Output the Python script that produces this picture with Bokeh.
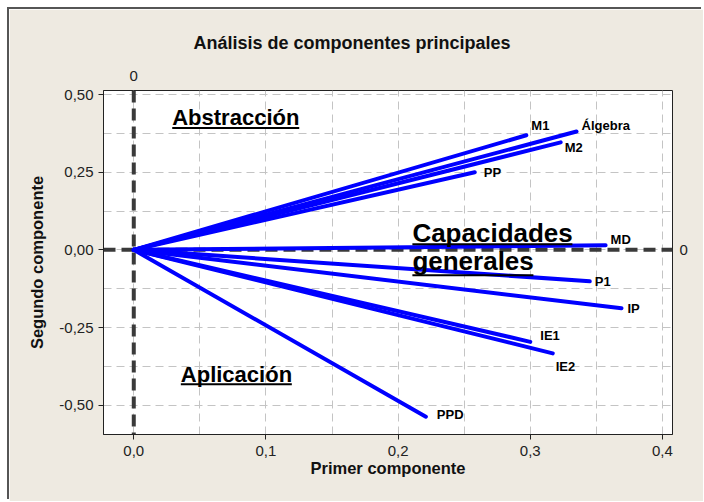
from bokeh.plotting import figure
from bokeh.models import (ColumnDataSource, Range1d, FixedTicker, SingleIntervalTicker,
                          CustomJSTickFormatter, Span, Label, LinearAxis, Title)
from bokeh.core.properties import value
from bokeh.embed import file_html
from bokeh.resources import INLINE

# ---- data (loadings) ----
variables = ["M1", "Álgebra", "M2", "PP", "MD", "P1", "IP", "IE1", "IE2", "PPD"]
pc1 = [0.297, 0.335, 0.323, 0.258, 0.357, 0.345, 0.369, 0.300, 0.317, 0.221]
pc2 = [0.369, 0.381, 0.346, 0.250, 0.015, -0.101, -0.188, -0.296, -0.333, -0.537]

x_ticks = [0.0, 0.1, 0.2, 0.3, 0.4]
y_ticks = [-0.50, -0.25, 0.0, 0.25, 0.50]

title_text = "Análisis de componentes principales"
x_title = "Primer componente"
y_title = "Segundo componente"

# label offsets in pixels (dx right, dy down) -- layout only
label_dx = [5, 5, 4, 9, 5, 5, 6, 10, 3, 11]
label_dy = [-10, -6, 5, 0, -6, 0, 0, -6, 13, -2]

BG = "#EEEAE1"
DARK = "#3a3a3a"
FONT = "Liberation Sans"

src = ColumnDataSource(dict(x0=[0.0] * len(pc1), y0=[0.0] * len(pc2), x1=pc1, y1=pc2,
                            name=variables, dx=label_dx, dy=label_dy))

XR = (-0.0229, 0.4076)
YR = (-0.5942, 0.5129)
FW, FH = 569, 344

p = figure(width=694, height=492, output_backend="svg", toolbar_location=None,
           x_range=Range1d(*XR), y_range=Range1d(*YR),
           min_border_left=94, min_border_right=694 - 94 - FW,
           min_border_top=81, min_border_bottom=492 - 81 - FH)
p.background_fill_color = "white"
p.border_fill_color = BG
p.outline_line_color = "#222222"
p.outline_line_width = 1
p.styles = {"margin-left": "9px", "margin-top": "9px",
            "box-shadow": "-2px -2px 0 0 #555555"}

# grids
p.xgrid.ticker = SingleIntervalTicker(interval=0.05, num_minor_ticks=0)
p.ygrid.ticker = SingleIntervalTicker(interval=0.125, num_minor_ticks=0)
for g in (p.xgrid, p.ygrid):
    g.grid_line_color = "#c4c4c4"
    g.grid_line_dash = "8 5"
    g.grid_line_width = 1

# axes
p.xaxis.ticker = FixedTicker(ticks=x_ticks)
p.yaxis.ticker = FixedTicker(ticks=y_ticks)
p.xaxis.formatter = CustomJSTickFormatter(code="return tick.toFixed(1).replace('.', ',');")
p.yaxis.formatter = CustomJSTickFormatter(code="return tick.toFixed(2).replace('.', ',');")
for ax in (p.xaxis, p.yaxis):
    ax.axis_line_color = "#222222"
    ax.major_tick_out = 5
    ax.major_tick_in = 0
    ax.minor_tick_line_color = None
    ax.major_tick_line_color = "#222222"
    ax.major_label_text_font = FONT
    ax.major_label_text_font_size = "15px"
    ax.major_label_text_color = "#222222"
    ax.axis_label_text_font = FONT
    ax.axis_label_text_font_style = "bold"
    ax.axis_label_text_font_size = "16.5px"
    ax.axis_label_text_color = "#111111"
p.xaxis.major_label_standoff = 6
p.yaxis.major_label_standoff = 5
p.xaxis.axis_label = x_title
p.yaxis.axis_label = y_title
p.xaxis.axis_label_standoff = 0
p.yaxis.axis_label_standoff = 10

# "0" marks of the reference lines, as extra axes
for side, stand in (("above", 10), ("right", 7)):
    zax = LinearAxis(ticker=FixedTicker(ticks=[0]), axis_line_color=None,
                     major_tick_line_color=None, minor_tick_line_color=None,
                     major_tick_out=0, major_tick_in=0,
                     major_label_text_font=FONT, major_label_text_font_size="15px",
                     major_label_text_color="#222222", major_label_standoff=stand)
    p.add_layout(zax, side)

# title
p.add_layout(Title(text=title_text, align="left", offset=90, standoff=30,
                   text_font=FONT, text_font_style="bold", text_font_size="18px",
                   text_color="#111111"), "above")

# reference lines at 0
p.add_layout(Span(location=0, dimension="height", line_color=DARK, line_width=4,
                  line_dash="12 6", level="underlay"))
p.add_layout(Span(location=0, dimension="width", line_color=DARK, line_width=4,
                  line_dash="12 6", level="underlay"))

# loading vectors
p.segment(x0="x0", y0="y0", x1="x1", y1="y1", source=src, line_color="#0000FF",
          line_width=4, line_cap="round")
p.text(x="x1", y="y1", text="name", source=src, x_offset="dx", y_offset="dy",
       text_font=value(FONT), text_font_style="bold", text_font_size="13px",
       text_color="black", text_align="left", text_baseline="middle")

# region annotations (bold, underlined)
PXX = FW / (XR[1] - XR[0])
notes = [("Abstracción", 0.0291, 0.425, 0.392, 22, 127),
         ("Capacidades", 0.2108, 0.0543, 0.0177, 26, 160),
         ("generales", 0.2108, -0.0367, -0.0820, 26, 121),
         ("Aplicación", 0.0356, -0.4003, -0.4325, 22, 111)]
for txt, nx, ny, uy, fs, w in notes:
    p.add_layout(Label(x=nx, y=ny, text=txt, text_font=FONT,
                       text_font_style="bold", text_font_size=f"{fs}px",
                       text_color="black", text_align="left", text_baseline="middle"))
    p.segment(x0=[nx], y0=[uy], x1=[nx + w / PXX], y1=[uy], line_color="black", line_width=2)

open("out.html", "w").write(file_html(p, INLINE))
